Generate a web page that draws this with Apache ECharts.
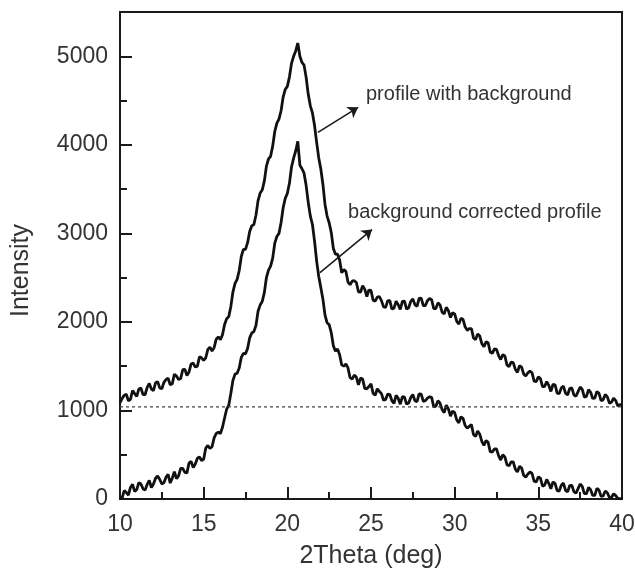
<!DOCTYPE html>
<html>
<head>
<meta charset="utf-8">
<script src="https://cdn.jsdelivr.net/npm/echarts@6/dist/echarts.min.js"></script>
<style>
  html, body { margin: 0; padding: 0; background: #fff; }
  #chart { width: 635px; height: 571px; }
</style>
</head>
<body>
<div id="chart"></div>
<script>
// 2Theta sampling (deg), 0.125 steps
const twoTheta = [
  10, 10.125, 10.25, 10.375, 10.5, 10.625, 10.75, 10.875,
  11, 11.125, 11.25, 11.375, 11.5, 11.625, 11.75, 11.875,
  12, 12.125, 12.25, 12.375, 12.5, 12.625, 12.75, 12.875,
  13, 13.125, 13.25, 13.375, 13.5, 13.625, 13.75, 13.875,
  14, 14.125, 14.25, 14.375, 14.5, 14.625, 14.75, 14.875,
  15, 15.125, 15.25, 15.375, 15.5, 15.625, 15.75, 15.875,
  16, 16.125, 16.25, 16.375, 16.5, 16.625, 16.75, 16.875,
  17, 17.125, 17.25, 17.375, 17.5, 17.625, 17.75, 17.875,
  18, 18.125, 18.25, 18.375, 18.5, 18.625, 18.75, 18.875,
  19, 19.125, 19.25, 19.375, 19.5, 19.625, 19.75, 19.875,
  20, 20.125, 20.25, 20.375, 20.5, 20.625, 20.75, 20.875,
  21, 21.125, 21.25, 21.375, 21.5, 21.625, 21.75, 21.875,
  22, 22.125, 22.25, 22.375, 22.5, 22.625, 22.75, 22.875,
  23, 23.125, 23.25, 23.375, 23.5, 23.625, 23.75, 23.875,
  24, 24.125, 24.25, 24.375, 24.5, 24.625, 24.75, 24.875,
  25, 25.125, 25.25, 25.375, 25.5, 25.625, 25.75, 25.875,
  26, 26.125, 26.25, 26.375, 26.5, 26.625, 26.75, 26.875,
  27, 27.125, 27.25, 27.375, 27.5, 27.625, 27.75, 27.875,
  28, 28.125, 28.25, 28.375, 28.5, 28.625, 28.75, 28.875,
  29, 29.125, 29.25, 29.375, 29.5, 29.625, 29.75, 29.875,
  30, 30.125, 30.25, 30.375, 30.5, 30.625, 30.75, 30.875,
  31, 31.125, 31.25, 31.375, 31.5, 31.625, 31.75, 31.875,
  32, 32.125, 32.25, 32.375, 32.5, 32.625, 32.75, 32.875,
  33, 33.125, 33.25, 33.375, 33.5, 33.625, 33.75, 33.875,
  34, 34.125, 34.25, 34.375, 34.5, 34.625, 34.75, 34.875,
  35, 35.125, 35.25, 35.375, 35.5, 35.625, 35.75, 35.875,
  36, 36.125, 36.25, 36.375, 36.5, 36.625, 36.75, 36.875,
  37, 37.125, 37.25, 37.375, 37.5, 37.625, 37.75, 37.875,
  38, 38.125, 38.25, 38.375, 38.5, 38.625, 38.75, 38.875,
  39, 39.125, 39.25, 39.375, 39.5, 39.625, 39.75, 39.875,
  40
];

// profile with background
const withBackground = [
  1090, 1135, 1170, 1185, 1110, 1125, 1225, 1190,
  1160, 1240, 1255, 1178, 1180, 1260, 1305, 1242,
  1225, 1313, 1325, 1255, 1245, 1317, 1350, 1365,
  1290, 1302, 1410, 1388, 1350, 1360, 1460, 1465,
  1395, 1435, 1525, 1535, 1490, 1500, 1605, 1595,
  1565, 1595, 1690, 1715, 1670, 1710, 1805, 1830,
  1800, 1855, 1970, 2035, 2060, 2175, 2340, 2435,
  2480, 2580, 2740, 2820, 2820, 2895, 3020, 3085,
  3100, 3205, 3370, 3455, 3490, 3590, 3760, 3840,
  3870, 3985, 4150, 4245, 4290, 4385, 4540, 4625,
  4660, 4765, 4920, 5000, 5060, 5150, 5000, 4930,
  4900, 4760, 4570, 4440, 4360, 4220, 4030, 3855,
  3730, 3555, 3330, 3195, 3120, 3010, 2830, 2765,
  2765, 2700, 2555, 2590, 2570, 2450, 2420, 2460,
  2465, 2445, 2340, 2335, 2410, 2370, 2285, 2360,
  2355, 2245, 2235, 2280, 2285, 2240, 2170, 2165,
  2240, 2240, 2145, 2155, 2235, 2195, 2140, 2232,
  2235, 2145, 2160, 2230, 2260, 2195, 2175, 2265,
  2270, 2185, 2185, 2240, 2265, 2250, 2150, 2150,
  2215, 2192, 2110, 2090, 2165, 2127, 2050, 2103,
  2090, 2005, 1975, 2040, 2030, 1945, 1905, 1925,
  1925, 1820, 1800, 1865, 1840, 1755, 1720, 1775,
  1765, 1660, 1645, 1695, 1690, 1620, 1575, 1630,
  1615, 1515, 1495, 1545, 1540, 1465, 1430, 1505,
  1490, 1410, 1390, 1425, 1445, 1425, 1330, 1325,
  1380, 1360, 1270, 1270, 1325, 1283, 1215, 1293,
  1290, 1195, 1190, 1255, 1275, 1195, 1175, 1248,
  1255, 1177, 1160, 1213, 1265, 1237, 1150, 1158,
  1235, 1205, 1135, 1140, 1215, 1193, 1110, 1122,
  1180, 1153, 1080, 1095, 1140, 1112, 1050, 1065,
  1065
];

// background corrected profile
const corrected = [
  10, 10, 95, 75, 45, 130, 165, 85,
  105, 185, 170, 115, 100, 165, 210, 130,
  170, 235, 260, 220, 170, 185, 245, 280,
  180, 235, 310, 230, 260, 345, 345, 300,
  295, 405, 425, 355, 395, 460, 475, 435,
  450, 575, 605, 570, 590, 690, 740, 755,
  740, 810, 915, 1015, 1060, 1195, 1340, 1410,
  1420, 1480, 1600, 1645, 1640, 1700, 1820, 1875,
  1890, 1960, 2120, 2190, 2230, 2330, 2500, 2585,
  2630, 2720, 2890, 2965, 3000, 3120, 3290, 3395,
  3450, 3565, 3750, 3850, 3930, 4040, 3770, 3730,
  3680, 3540, 3350, 3195, 3100, 2915, 2690, 2515,
  2390, 2260, 2080, 1990, 1970, 1880, 1730, 1670,
  1695, 1630, 1515, 1500, 1525, 1480, 1370, 1355,
  1400, 1375, 1290, 1365, 1355, 1250, 1245, 1270,
  1300, 1195, 1170, 1245, 1215, 1190, 1115, 1125,
  1185, 1180, 1110, 1080, 1170, 1138, 1070, 1157,
  1150, 1072, 1085, 1145, 1180, 1110, 1100, 1188,
  1185, 1103, 1110, 1140, 1155, 1147, 1040, 1048,
  1110, 1082, 1010, 975, 1060, 1017, 935, 993,
  975, 892, 860, 928, 910, 830, 800, 820,
  840, 728, 705, 767, 730, 650, 605, 660,
  640, 535, 530, 565, 565, 490, 440, 500,
  475, 387, 375, 420, 420, 338, 305, 370,
  350, 268, 245, 282, 305, 288, 200, 192,
  250, 235, 145, 155, 220, 177, 115, 193,
  175, 95, 90, 155, 180, 98, 80, 152,
  155, 83, 65, 117, 170, 143, 60, 60,
  130, 105, 40, 42, 120, 100, 30, 35,
  90, 70, 15, 17, 60, 38, 5, 5,
  0
];

// dotted background level
const baselineX = [10, 40];
const baselineY = [1040, 1040];

// annotation arrows [from, to] in data coords, and label anchors
const arrowTop = [[21.83, 4140], [24.23, 4423]];
const arrowBottom = [[21.95, 2557], [25.06, 3043]];
const labelTop = [24.7, 4570];
const labelBottom = [23.63, 3235];

const ink = '#1a1a1a';
const font = 'Liberation Sans, Arial, Helvetica, sans-serif';

const toPairs = (xs, ys) => xs.map((x, i) => [x, ys[i]]);

const chart = echarts.init(document.getElementById('chart'));

const arrowLine = (pts) => [{ coord: pts[0], symbol: 'none' }, { coord: pts[1], symbol: 'arrow' }];
const textPoint = (pt, text) => ({
  coord: pt,
  symbol: 'circle',
  symbolSize: 0,
  label: {
    show: true, position: 'right', distance: 0, formatter: text,
    fontSize: 20, color: '#333', fontFamily: font
  }
});

chart.setOption({
  animation: false,
  grid: {
    left: 120, right: 13, top: 12, bottom: 72,
    outerBoundsMode: 'none',
    show: true, borderColor: ink, borderWidth: 2
  },
  xAxis: {
    type: 'value', min: 10, max: 40, interval: 5,
    name: '2Theta (deg)', nameLocation: 'middle', nameGap: 45,
    nameTextStyle: { fontSize: 25, color: '#333', fontFamily: font },
    axisLine: { lineStyle: { color: ink, width: 2 } },
    axisTick: { inside: true, length: 12, lineStyle: { color: ink, width: 2 } },
    minorTick: { show: true, splitNumber: 2, length: 7, lineStyle: { color: ink, width: 2 } },
    splitLine: { show: false },
    axisLabel: { fontSize: 23, color: '#333', margin: 14, fontFamily: font }
  },
  yAxis: [{
    type: 'value', min: 0, max: 5500, interval: 1000,
    name: 'Intensity', nameLocation: 'middle', nameGap: 86,
    nameTextStyle: { fontSize: 25, color: '#333', fontFamily: font, padding: [0, 30, 0, 0] },
    axisLine: { lineStyle: { color: ink, width: 2 } },
    axisTick: { inside: true, length: 12, lineStyle: { color: ink, width: 2 } },
    splitLine: { show: false },
    axisLabel: {
      fontSize: 23, color: '#333', margin: 12, fontFamily: font,
      formatter: v => (v % 1000 === 0 ? String(v) : '')
    }
  }, {
    // minor ticks every 500
    type: 'value', min: 0, max: 5500, interval: 500, position: 'left',
    axisLine: { show: false },
    axisTick: { inside: true, length: 7, lineStyle: { color: ink, width: 2 } },
    axisLabel: { show: false },
    splitLine: { show: false }
  }],
  series: [
    {
      name: 'profile with background',
      type: 'line',
      data: toPairs(twoTheta, withBackground),
      showSymbol: false,
      lineStyle: { color: '#111', width: 2.8 },
      markLine: {
        silent: true, symbolSize: 10,
        label: { show: false },
        lineStyle: { color: ink, width: 1.6, type: 'solid' },
        data: [arrowLine(arrowTop), arrowLine(arrowBottom)]
      },
      markPoint: {
        silent: true,
        data: [
          textPoint(labelTop, 'profile with background'),
          textPoint(labelBottom, 'background corrected profile')
        ]
      }
    },
    {
      name: 'background corrected profile',
      type: 'line',
      data: toPairs(twoTheta, corrected),
      showSymbol: false,
      lineStyle: { color: '#111', width: 2.8 }
    },
    {
      name: 'background',
      type: 'line',
      data: toPairs(baselineX, baselineY),
      showSymbol: false,
      lineStyle: { color: '#444', width: 1.2, type: [3, 3] }
    }
  ]
});
</script>
</body>
</html>
